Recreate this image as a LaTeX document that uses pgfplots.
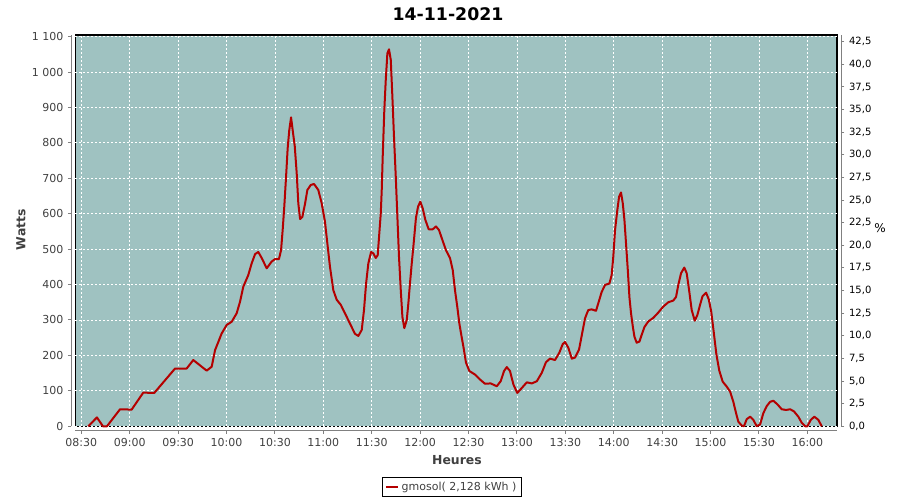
\documentclass[border=0pt]{standalone}
\usepackage{pgfplots}
\pgfplotsset{compat=1.18}
\usepackage{fontspec}
\setmainfont{DejaVu Sans}
\definecolor{plotbg}{RGB}{159,194,193}
\definecolor{linered}{RGB}{180,0,0}
\definecolor{ticklbl}{RGB}{64,64,64}
\definecolor{axgray}{RGB}{128,128,128}
\begin{document}
\begin{tikzpicture}
\path[use as bounding box] (0,0) rectangle (675pt,375pt);
\begin{axis}[
  at={(56.5pt,55.3pt)}, anchor=south west,
  scale only axis, width=571.3pt, height=293.5pt,
  xmin=506.3, xmax=978.4, ymin=0, ymax=1104.7,
  axis x line=bottom, axis y line=left,
  axis line shift=3pt,
  axis line style={-, draw=axgray, line width=0.75pt},
  axis background/.style={fill=plotbg, draw=black, line width=0.9pt},
  xtick={510,540,570,600,630,660,690,720,750,780,810,840,870,900,930,960},
  xticklabels={08:30,09:00,09:30,10:00,10:30,11:00,11:30,12:00,12:30,13:00,13:30,14:00,14:30,15:00,15:30,16:00},
  ytick={0,100,...,1100},
  tick align=outside, major tick length=2.5pt,
  tick style={draw=axgray, line width=0.75pt},
  grid=major,
  grid style={white, dash pattern=on 1.5pt off 1.5pt, line width=0.6pt},
  /pgf/number format/assume math mode=true,
  /pgf/number format/1000 sep={\ },
  ticklabel style={font=\fontsize{8.25}{10}\selectfont, text=ticklbl},
  xlabel={Heures}, ylabel={Watts},
  xlabel style={at={(rel axis cs:0.501,-0.086)}, anchor=center, font=\bfseries\fontsize{9.3}{11}\selectfont, text=ticklbl},
  ylabel style={at={(rel axis cs:-0.0713,0.502)}, anchor=center, rotate=0, font=\bfseries\fontsize{9.3}{11}\selectfont, text=ticklbl},
  legend style={at={(rel axis cs:0.4946,-0.155)}, anchor=center, draw=black, line width=0.6pt,
    font=\fontsize{8.25}{10}\selectfont, text=ticklbl, inner xsep=2pt, inner ysep=1.5pt},
  legend image code/.code={\draw[#1, line width=1.5pt] (0pt,0pt) -- (9pt,0pt);},
  clip=false,
]
\addplot[linered, line width=1.5pt, line join=round] coordinates {
(514.3,0) (519.7,25) (523.4,0) (525.9,0) (534.0,48) (541.2,47) (548.4,95) (555.2,94)
(568.1,163) (575.3,163) (579.4,187) (587.7,157) (590.8,168) (592.9,215) (597.0,262)
(600.1,286) (603.2,295) (606.3,319) (608.4,352) (610.4,394) (613.5,427) (615.6,460)
(617.7,486) (619.7,492) (621.8,475) (624.9,446) (628.0,465) (630.1,472) (632.5,472)
(633.8,497) (634.8,554) (635.8,620) (636.9,704) (637.9,785) (638.9,836) (640.0,872)
(641.0,836) (642.3,790) (643.5,714) (644.5,629) (645.6,585) (647.0,591) (648.7,629)
(650.1,667) (652.2,681) (654.2,684) (656.9,667) (659.0,629) (661.0,578) (662.5,516)
(664.1,451) (666.2,384) (668.3,357) (670.8,343) (673.4,319) (676.5,290) (679.6,261)
(681.7,255) (683.8,272) (685.2,328) (686.5,403) (687.9,460) (689.6,492) (691.0,488)
(692.5,475) (693.7,483) (694.7,545) (695.6,601) (696.2,667) (696.8,761) (697.8,893)
(698.7,978) (699.7,1053) (700.7,1064) (701.8,1034) (702.8,930) (703.8,817) (704.9,704)
(705.9,591) (706.9,478) (708.0,384) (709.0,309) (710.2,277) (711.7,300) (712.7,347)
(713.7,403) (714.8,460) (715.8,507) (717.4,588) (718.7,620) (720.1,634) (721.6,615)
(723.2,583) (725.3,556) (727.8,556) (729.8,564) (731.7,554) (733.4,531) (736.0,497)
(738.5,475) (740.2,441) (741.6,384) (743.0,338) (744.3,290) (745.8,250) (746.8,225)
(748.4,180) (750.5,156) (754.0,146) (757.1,132) (760.2,120) (763.7,121) (767.5,113)
(769.9,127) (772.0,156) (773.7,167) (775.7,156) (777.8,118) (780.2,94) (783.0,108)
(786.1,124) (789.2,121) (792.3,127) (795.4,151) (798.0,181) (800.5,191) (803.6,187)
(806.3,208) (808.4,232) (809.8,238) (811.8,222) (814.0,191) (816.0,194) (818.5,217)
(820.1,255) (822.2,305) (824.2,328) (826.3,330) (829.0,326) (830.4,347) (832.5,379)
(834.6,399) (837.3,403) (838.7,427) (839.7,478) (840.8,554) (842.2,610) (843.3,648)
(844.5,660) (845.6,629) (846.6,583) (847.6,516) (848.7,441) (849.7,365) (850.7,319)
(851.8,282) (852.8,253) (854.2,236) (855.9,239) (857.3,258) (859.0,280) (861.4,296)
(864.5,306) (867.6,321) (870.7,338) (873.8,350) (876.9,355) (878.6,365) (880.0,399)
(881.7,432) (883.7,448) (885.2,432) (886.7,384) (888.3,328) (890.2,298) (891.8,314)
(893.5,343) (895.0,367) (897.2,377) (898.9,358) (900.4,324) (901.9,268) (903.6,203)
(905.4,157) (907.5,126) (910.0,112) (912.1,98) (914.1,69) (915.8,37) (917.2,13)
(919.3,2) (920.7,0) (922.4,20) (924.5,27) (926.5,18) (928.6,0) (930.7,5) (932.7,37)
(934.8,57) (936.9,69) (938.9,72) (941.4,62) (944.1,48) (946.8,46) (949.3,48)
(951.7,42) (954.4,27) (956.5,10) (958.6,0) (960.0,0) (962.1,18) (964.3,27)
(966.8,18) (968.9,0)
};
\addlegendentry{gmosol( 2,128 kWh )}
\end{axis}
\begin{axis}[
  at={(56.5pt,55.3pt)}, anchor=south west,
  scale only axis, width=571.3pt, height=293.5pt,
  xmin=506.3, xmax=978.4, ymin=0, ymax=43.24,
  axis x line=none, axis y line=right,
  axis line shift=3pt,
  axis line style={-, draw=axgray, line width=0.75pt},
  ytick={0,2.5,...,42.5},
  tick align=outside, major tick length=2.5pt,
  tick style={draw=axgray, line width=0.75pt},
  /pgf/number format/assume math mode=true,
  yticklabel style={font=\fontsize{7.5}{9}\selectfont, text=black,
    /pgf/number format/.cd, fixed, fixed zerofill, precision=1, use comma},
  ylabel={\%},
  ylabel style={at={(rel axis cs:1.0565,0.507)}, anchor=center, rotate=-90, font=\fontsize{9}{11}\selectfont},
]
\end{axis}
\node[font=\bfseries\fontsize{13}{15}\selectfont] at (336pt,364.5pt) {14-11-2021};
\end{tikzpicture}
\end{document}
